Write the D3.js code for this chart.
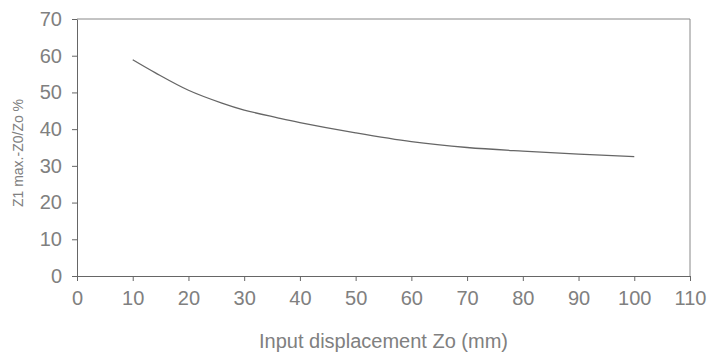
<!DOCTYPE html>
<html>
<head>
<meta charset="utf-8">
<script src="https://cdn.jsdelivr.net/npm/d3@7"></script>
<style>
  body { margin: 0; background: #fff; }
  text { font-family: "Liberation Sans", Arial, sans-serif; fill: #666; }
</style>
</head>
<body>
<div id="chart"></div>
<script>
// curve
const zo = [10, 14, 20, 26, 30, 36, 40, 50, 60, 70, 80, 90, 100];
const ratio = [58.9, 55.4, 50.6, 47.1, 45.2, 43.1, 41.8, 39.0, 36.6, 35.0, 34.0, 33.2, 32.5];
const xTicks = d3.range(0, 111, 10);
const yTicks = d3.range(0, 71, 10);

const width = 709, height = 356;
const margin = {top: 19, right: 19, bottom: 80, left: 77};
const w = width - margin.left - margin.right;
const h = height - margin.top - margin.bottom;

const svg = d3.select('#chart').append('svg')
  .attr('width', width)
  .attr('height', height);

const x = d3.scaleLinear().domain([0, 110]).range([0, w]);
const y = d3.scaleLinear().domain([0, 70]).range([h, 0]);

const g = svg.append('g')
  .attr('transform', 'translate(' + margin.left + ',' + margin.top + ')');

// frame top/right
g.append('path')
  .attr('d', 'M0,0H' + w + 'V' + h)
  .attr('fill', 'none')
  .attr('stroke', '#888');

const xAxis = g.append('g')
  .attr('transform', 'translate(0,' + h + ')')
  .call(d3.axisBottom(x).tickValues(xTicks).tickSize(5).tickSizeOuter(0).tickPadding(10));

const yAxis = g.append('g')
  .call(d3.axisLeft(y).tickValues(yTicks).tickSize(5).tickSizeOuter(0).tickPadding(10));

[xAxis, yAxis].forEach(a => {
  a.select('.domain').attr('stroke', '#666');
  a.selectAll('.tick line').attr('stroke', '#666');
  a.selectAll('.tick text').style('font-size', '20px').style('fill', '#808080');
});

const line = d3.line()
  .x((d, i) => x(zo[i]))
  .y((d, i) => y(ratio[i]))
  .curve(d3.curveCatmullRom);

g.append('path')
  .datum(ratio)
  .attr('d', line)
  .attr('fill', 'none')
  .attr('stroke', '#666')
  .attr('stroke-width', 1.3);

svg.append('text')
  .attr('text-anchor', 'middle')
  .attr('x', margin.left + w / 2)
  .attr('y', 348)
  .style('font-size', '20px')
  .style('fill', '#808080')
  .text('Input displacement Zo (mm)');

svg.append('text')
  .attr('text-anchor', 'middle')
  .attr('transform', 'translate(23,153) rotate(-90)')
  .style('font-size', '14px')
  .style('fill', '#808080')
  .text('Z1 max.-Z0/Zo %');
</script>
</body>
</html>
